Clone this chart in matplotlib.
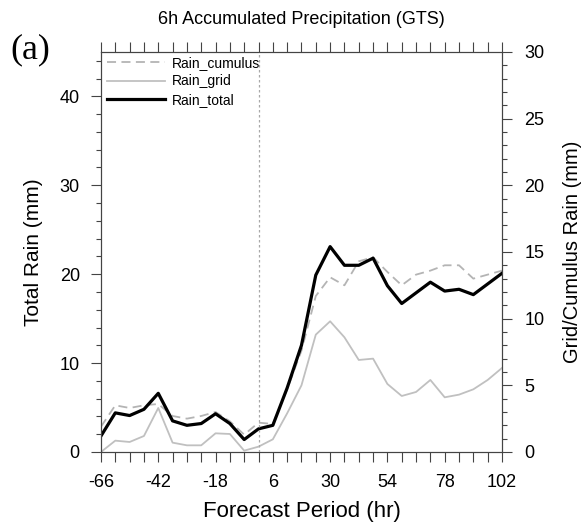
import matplotlib.pyplot as plt
import numpy as np
from matplotlib.ticker import MultipleLocator

plt.rcParams['font.family'] = ['Liberation Sans', 'DejaVu Sans']
plt.rcParams['axes.unicode_minus'] = False

# forecast period (hr)
hours = list(range(-66, 103, 6))

# total rain, left axis (mm)
rain_total = [1.8, 4.4, 4.1, 4.8, 6.6, 3.5, 3.0, 3.2, 4.3, 3.2, 1.4, 2.6, 3.0,
              7.2, 12.0, 19.9, 23.1, 21.0, 21.0, 21.8, 18.7, 16.7, 17.9, 19.1,
              18.1, 18.3, 17.7, 18.9, 20.1]
# cumulus and grid rain, right axis (mm)
rain_cumulus = [1.9, 3.5, 3.3, 3.5, 3.6, 2.7, 2.5, 2.7, 3.0, 2.3, 1.3, 2.2, 2.1,
                4.7, 7.6, 11.7, 13.1, 12.5, 14.3, 14.6, 13.5, 12.5, 13.3, 13.6,
                14.0, 14.0, 13.0, 13.3, 13.6]
rain_grid = [0.0, 0.85, 0.75, 1.2, 3.3, 0.7, 0.5, 0.5, 1.4, 1.35, 0.1, 0.4, 0.95,
             2.9, 5.0, 8.8, 9.8, 8.6, 6.9, 7.0, 5.1, 4.2, 4.5, 5.4, 4.1, 4.3,
             4.7, 5.4, 6.3]

axc = '#444444'

fig = plt.figure(figsize=(5.82, 5.32), dpi=100)
ax = fig.add_axes([0.1735, 0.1504, 0.689, 0.752])
ax2 = ax.twinx()

ax2.plot(hours, rain_cumulus, '--', color='#b4b4b4', lw=1.3, dashes=(5, 3), label='Rain_cumulus')
ax2.plot(hours, rain_grid, '-', color='#c0c0c0', lw=1.3, label='Rain_grid')
ax.plot(hours, rain_total, '-', color='black', lw=2.3, label='Rain_total')
ax.axvline(0, color='#a8a8a8', ls=(0, (2, 2)), lw=0.9)

ax.set_zorder(ax2.get_zorder() + 1)
ax.patch.set_visible(False)

ax.set_xlim(-66, 102)
ax.set_ylim(0, 45)
ax2.set_ylim(0, 30)

ax.set_xticks(range(-66, 103, 24))
ax.xaxis.set_minor_locator(MultipleLocator(6))
ax.yaxis.set_major_locator(MultipleLocator(10))
ax.yaxis.set_minor_locator(MultipleLocator(2))
ax2.yaxis.set_major_locator(MultipleLocator(5))
ax2.yaxis.set_minor_locator(MultipleLocator(1))

ax.tick_params(axis='x', which='both', direction='out', length=7.2, top=True,
               labelsize=13, width=0.8, color=axc, pad=9)
ax.tick_params(axis='y', which='major', direction='out', length=7.2, labelsize=13,
               width=0.8, color=axc, pad=8)
ax.tick_params(axis='y', which='minor', direction='out', length=3.6, width=0.8, color=axc)
ax2.tick_params(axis='y', which='major', direction='out', length=7.2, labelsize=13,
                width=0.8, color=axc, pad=9)
ax2.tick_params(axis='y', which='minor', direction='out', length=3.6, width=0.8, color=axc)

for a in (ax, ax2):
    for s in a.spines.values():
        s.set_linewidth(0.8)
        s.set_color(axc)

ax.set_xlabel('Forecast Period (hr)', fontsize=16, labelpad=7)
ax.set_ylabel('Total Rain (mm)', fontsize=15, labelpad=12)
ax2.set_ylabel('Grid/Cumulus Rain (mm)', fontsize=14.5, labelpad=13)
ax.set_title('6h Accumulated Precipitation (GTS)', fontsize=13, pad=20)

h1, l1 = ax2.get_legend_handles_labels()
h2, l2 = ax.get_legend_handles_labels()
ax.legend(h1 + h2, l1 + l2, loc='upper left', frameon=False, fontsize=10,
          handlelength=4.2, handletextpad=0.5, labelspacing=0.3,
          borderaxespad=0.0, bbox_to_anchor=(0.0, 1.003))

fig.text(0.017, 0.89, '(a)', fontsize=26, family=['Liberation Serif', 'DejaVu Serif'])

plt.savefig('out.png', dpi=100)
